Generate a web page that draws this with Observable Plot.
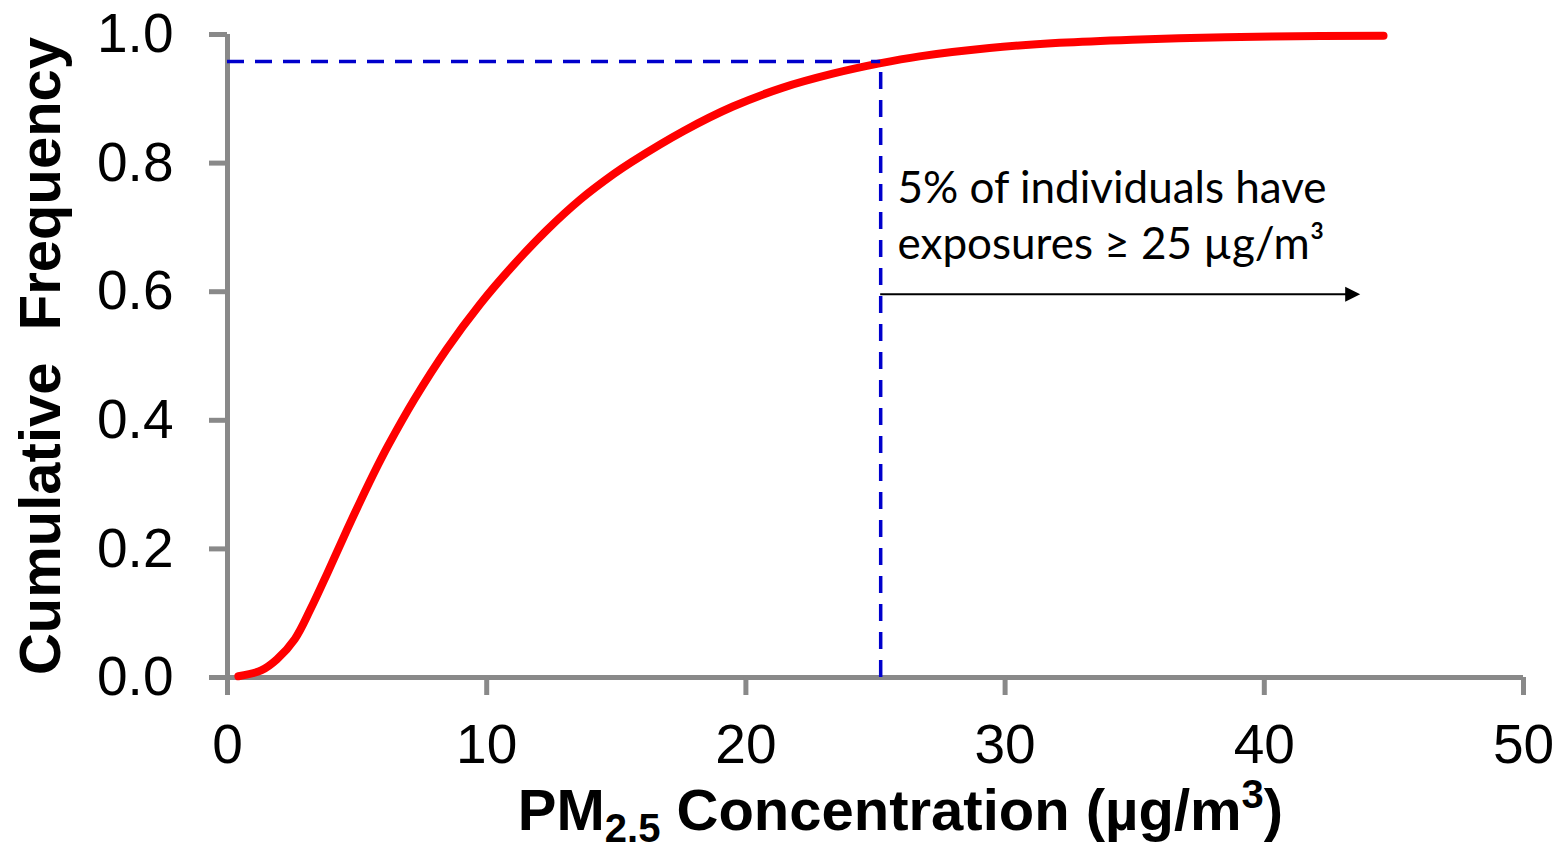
<!DOCTYPE html>
<html>
<head>
<meta charset="utf-8">
<script src="https://cdn.jsdelivr.net/npm/d3@7"></script>
<script src="https://cdn.jsdelivr.net/npm/@observablehq/plot@0.6"></script>
<style>
  html, body { margin: 0; padding: 0; background: #fff; }
</style>
</head>
<body>
<div id="chart"></div>
<script>
// ---- data ----
const concentration = [0.42, 1.3, 1.9, 2.6, 3.2, 3.85, 4.5, 5.1, 5.8, 6.2, 7.2, 8.46, 9.75, 11.0, 12.3, 13.6, 14.9, 15.6, 17.6, 19.5, 21.4, 23.35, 25.15, 26.7, 29.4, 32.1, 34.9, 37.6, 40.3, 44.6];
const cumulativeFrequency = [0.002, 0.011, 0.028, 0.06, 0.106, 0.162, 0.22, 0.272, 0.33, 0.361, 0.432, 0.511, 0.581, 0.640, 0.695, 0.743, 0.783, 0.802, 0.850, 0.888, 0.917, 0.939, 0.955, 0.966, 0.979, 0.987, 0.992, 0.995, 0.997, 0.998];
const xTicks = [0, 10, 20, 30, 40, 50];
const yTicks = [0, 0.2, 0.4, 0.6, 0.8, 1.0];
const thresholdX = 25.2;      // µg/m3
const thresholdY = 0.958;     // cumulative frequency at threshold
const arrowY = 0.596;
const arrowEndX = 43.7;
const annotationX = 25.85;
const annotationY = 0.6516;
const annotationLines = ["5% of individuals have", "exposures \u2265 25 \u00b5g/m\u00b3"];
const yLabel = "Cumulative\u00a0 Frequency";
const xLabelParts = [["PM", "normal"], ["2.5", "sub"], [" Concentration (\u00b5g/m", "normal"], ["3", "sup"], [")", "normal"]];

const curve = concentration.map((x, i) => ({x, y: cumulativeFrequency[i]}));

const axisGray = "#898989";
const dashBlue = "#0000CC";

const triangleRight = {
  draw(ctx, size) {
    const r = Math.sqrt(size / Math.PI);
    ctx.moveTo(0, 0);
    ctx.lineTo(-2 * r, -r);
    ctx.lineTo(-2 * r, r);
    ctx.closePath();
  }
};

const chart = Plot.plot({
  width: 1563,
  height: 849,
  marginLeft: 227,
  marginRight: 40,
  marginTop: 34,
  marginBottom: 172,
  style: {fontFamily: "'Liberation Sans', Arial, sans-serif", background: "#fff", color: "#000", overflow: "visible"},
  x: {domain: [0, 50]},
  y: {domain: [0, 1]},
  marks: [
    Plot.ruleX([0], {stroke: axisGray, strokeWidth: 5}),
    Plot.ruleY([0], {stroke: axisGray, strokeWidth: 5}),
    Plot.axisX({ticks: xTicks, tickFormat: d => String(d), tickSize: 18, tickPadding: 28, fontSize: 55, stroke: axisGray, strokeWidth: 5, fill: "#000", label: null}),
    Plot.axisY({ticks: yTicks, tickFormat: d => d.toFixed(1), tickSize: 18, tickPadding: 36, fontSize: 55, stroke: axisGray, strokeWidth: 5, fill: "#000", label: null}),
    Plot.line(curve, {x: "x", y: "y", stroke: "#FF0000", strokeWidth: 8, curve: "catmull-rom", strokeLinecap: "round"}),
    Plot.ruleY([thresholdY], {x1: 0, x2: thresholdX, stroke: dashBlue, strokeWidth: 3.5, strokeDasharray: "17,11"}),
    Plot.ruleX([thresholdX], {y1: 0, y2: thresholdY, stroke: dashBlue, strokeWidth: 3.5, strokeDasharray: "17,11"}),
    Plot.ruleY([arrowY], {x1: thresholdX, x2: arrowEndX - 0.4, stroke: "#000", strokeWidth: 2}),
    Plot.dot([{x: arrowEndX, y: arrowY}], {x: "x", y: "y", symbol: triangleRight, r: 7.5, fill: "#000", stroke: "none"}),
    Plot.text([annotationLines.join("\n")], {x: annotationX, y: annotationY, text: d => d, textAnchor: "start", lineAnchor: "bottom", fontFamily: "Lato, 'Open Sans', sans-serif", fontSize: 44, lineHeight: 56 / 44, fill: "#000"}),
    Plot.text([yLabel], {text: d => d, frameAnchor: "left", textAnchor: "middle", dx: -186, rotate: -90, fontSize: 58, fontWeight: "bold", fill: "#000"}),
    Plot.text([xLabelParts.map(p => p[0]).join("")], {text: d => d, frameAnchor: "bottom", textAnchor: "middle", dx: 25, dy: 152, lineAnchor: "bottom", fontSize: 58, fontWeight: "bold", fill: "#000", className: "xtitle"})
  ]
});

// rich text for the x-axis title (subscript / superscript)
const t = chart.querySelector(".xtitle text");
if (t) {
  t.textContent = "";
  let shift = 0;
  for (const [s, kind] of xLabelParts) {
    const ts = document.createElementNS("http://www.w3.org/2000/svg", "tspan");
    const target = kind === "sub" ? 12 : kind === "sup" ? -22 : 0;
    if (target !== shift) { ts.setAttribute("dy", target - shift); shift = target; }
    if (kind !== "normal") ts.setAttribute("font-size", 40);
    ts.textContent = s;
    t.appendChild(ts);
  }
}

document.getElementById("chart").appendChild(chart);
</script>
</body>
</html>
